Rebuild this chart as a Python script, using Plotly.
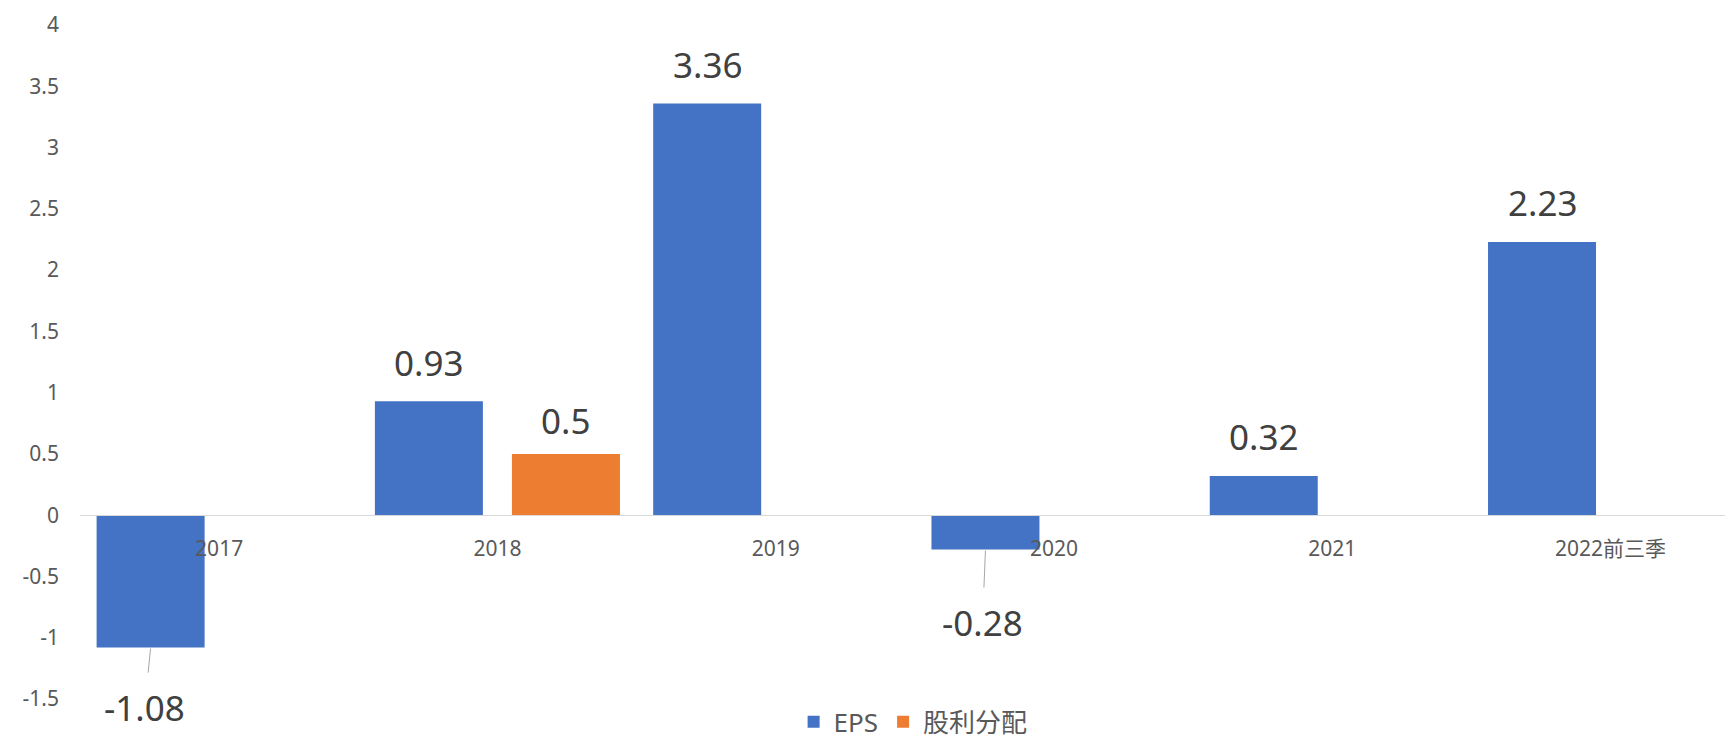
import plotly.graph_objects as go

# ---- data ----
categories = ["2017", "2018", "2019", "2020", "2021", "2022前三季"]
eps = [-1.08, 0.93, 3.36, -0.28, 0.32, 2.23]
dividend = [None, 0.5, None, None, None, None]
y_tickvals = [-1.5, -1, -0.5, 0, 0.5, 1, 1.5, 2, 2.5, 3, 3.5, 4]
y_ticktext = ["-1.5", "-1", "-0.5", "0", "0.5", "1", "1.5", "2", "2.5", "3", "3.5", "4"]

# ---- style ----
BLUE = "#4472C4"
ORANGE = "#ED7D31"
TICK_COLOR = "#595959"
LABEL_COLOR = "#404040"
FONT = "Noto Sans, Noto Sans CJK SC, sans-serif"
GROUP_OFFSET = 68.5          # px offset of each bar from category centre
NEG_LABEL_OFFSET = {0: (-6, 60), 3: (-3, 73)}  # (ax, ay) for negative labels

fig = go.Figure()
fig.add_trace(go.Bar(name="EPS", x=categories, y=eps, marker_color=BLUE,
                     marker_line_width=0))
fig.add_trace(go.Bar(name="股利分配", x=categories, y=dividend, marker_color=ORANGE,
                     marker_line_width=0))

annotations = []
for i, v in enumerate(eps):
    if v >= 0:
        annotations.append(dict(x=i, y=v, xref="x", yref="y",
                                text=f"{v:g}", showarrow=False, yanchor="middle",
                                xshift=-GROUP_OFFSET, yshift=39,
                                font=dict(size=35, color=LABEL_COLOR, family=FONT)))
    else:
        ax, ay = NEG_LABEL_OFFSET.get(i, (0, 60))
        annotations.append(dict(x=i, y=v, xref="x", yref="y",
                                text=f"{v:g}", showarrow=True, arrowhead=0,
                                arrowwidth=1, arrowcolor="#a6a6a6",
                                ax=ax, ay=ay, standoff=1, startstandoff=10,
                                xshift=-GROUP_OFFSET,
                                font=dict(size=35, color=LABEL_COLOR, family=FONT)))
for i, v in enumerate(dividend):
    if v is not None:
        annotations.append(dict(x=i, y=v, xref="x", yref="y",
                                text=f"{v:g}", showarrow=False, yanchor="middle",
                                xshift=GROUP_OFFSET, yshift=33,
                                font=dict(size=35, color=LABEL_COLOR, family=FONT)))

fig.update_layout(
    width=1725, height=731,
    margin=dict(l=72, r=0, t=17, b=40, autoexpand=False),
    paper_bgcolor="white", plot_bgcolor="white",
    barmode="group", bargap=0.015, bargroupgap=0.212,
    font=dict(family=FONT, color=TICK_COLOR),
    showlegend=True,
    legend=dict(orientation="h", x=0.504, xanchor="center", y=-0.034, yanchor="middle",
                font=dict(size=26, color=TICK_COLOR, family=FONT),
                bgcolor="rgba(0,0,0,0)", borderwidth=0),
    annotations=annotations,
)
fig.update_xaxes(type="category", range=[-0.5, 5.44], showgrid=False, zeroline=False,
                 showline=True, linecolor="#d9d9d9", linewidth=1,
                 anchor="free", position=1.5 / 5.5,
                 ticks="", ticklabelstandoff=15,
                 tickfont=dict(size=21, color=TICK_COLOR, family=FONT))
fig.update_yaxes(range=[-1.5, 4], showgrid=False, zeroline=False, showline=False,
                 tickvals=y_tickvals, ticktext=y_ticktext, ticks="",
                 ticklabelstandoff=20,
                 tickfont=dict(size=21, color=TICK_COLOR, family=FONT))

fig.write_html("out.html")
